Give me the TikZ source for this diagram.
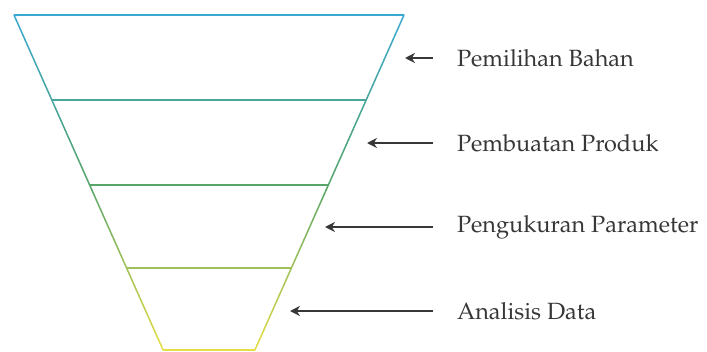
\documentclass[tikz,border=0pt]{standalone}
\usepackage[T1]{fontenc}
\usepackage{mathpazo}
\usepackage{tikz}
\usetikzlibrary{positioning, arrows.meta}
\tikzstyle{funnel} = [x = 1pt, y = -1pt]
\definecolor{funnelTop}{RGB}{58,168,210}
\definecolor{funnelMid}{RGB}{88,165,105}
\definecolor{funnelBottom}{RGB}{230,222,70}
\definecolor{arrowColor}{RGB}{55,55,55}
\definecolor{labelColor}{RGB}{55,55,55}
\tikzstyle{levelLine} = [line width = 1.7pt]
\tikzstyle{sideLine} = [line width = 1.5pt, line cap = round]
\tikzstyle{stepArrow} = [color=arrowColor, line width=1.8pt, -{Stealth[length=10pt, width=10pt]}]
\tikzstyle{stepText} = [color=labelColor, font=\fontsize{23.5}{28}\selectfont, anchor=west, inner xsep=0pt, outer xsep=24pt]
\newcommand{\funnelLeft}{14}
\newcommand{\funnelRight}{404}
\newcommand{\funnelSlope}{.445}
\newcommand{\levelLine}[2]{
  \pgfmathsetmacro{\xl}{\funnelLeft + \funnelSlope * (#1 - 15)}
  \pgfmathsetmacro{\xr}{\funnelRight - \funnelSlope * (#1 - 15)}
  \draw [levelLine, color=#2] (\xl, #1) -- (\xr, #1);
}
\newcommand{\funnelSides}[5]{
  \foreach \k in {1,...,#5} {
    \pgfmathsetmacro{\ya}{#1 + (#2 - #1) * (\k - 1) / #5}
    \pgfmathsetmacro{\yb}{#1 + (#2 - #1) * \k / #5}
    \pgfmathsetmacro{\mixPct}{100 - 100 * (\k - .5) / #5}
    \pgfmathsetmacro{\xla}{\funnelLeft + \funnelSlope * (\ya - 15)}
    \pgfmathsetmacro{\xlb}{\funnelLeft + \funnelSlope * (\yb - 15)}
    \pgfmathsetmacro{\xra}{\funnelRight - \funnelSlope * (\ya - 15)}
    \pgfmathsetmacro{\xrb}{\funnelRight - \funnelSlope * (\yb - 15)}
    \draw [sideLine, color=#3!\mixPct!#4] (\xla, \ya) -- (\xlb, \yb);
    \draw [sideLine, color=#3!\mixPct!#4] (\xra, \ya) -- (\xrb, \yb);
  }
}
\newcommand{\funnelStep}[4]{
  \coordinate (#1Tip) at (#3, #2);
  \node [stepText] (#1) at (433, #2) {#4};
  \draw [stepArrow] (#1.west) -- (#1Tip);
}

\begin{document}
\begin{tikzpicture}[funnel]
      \useasboundingbox (0, 0) rectangle (707, 351);

      \funnelSides{15}{185}{funnelTop}{funnelMid}{34}
      \funnelSides{185}{350}{funnelMid}{funnelBottom}{33}

      \levelLine{15}{funnelTop}
      \levelLine{100}{funnelTop!50!funnelMid}
      \levelLine{185}{funnelMid}
      \levelLine{268}{funnelMid!50!funnelBottom}
      \levelLine{350}{funnelBottom}

      \funnelStep{bahan}{58}{405}{Pemilihan Bahan}
      \funnelStep{produk}{143}{367}{Pembuatan Produk}
      \funnelStep{parameter}{227}{325}{Pengukuran Parameter}
      \funnelStep{analisis}{311}{290}{Analisis Data}
    \end{tikzpicture}
\end{document}
